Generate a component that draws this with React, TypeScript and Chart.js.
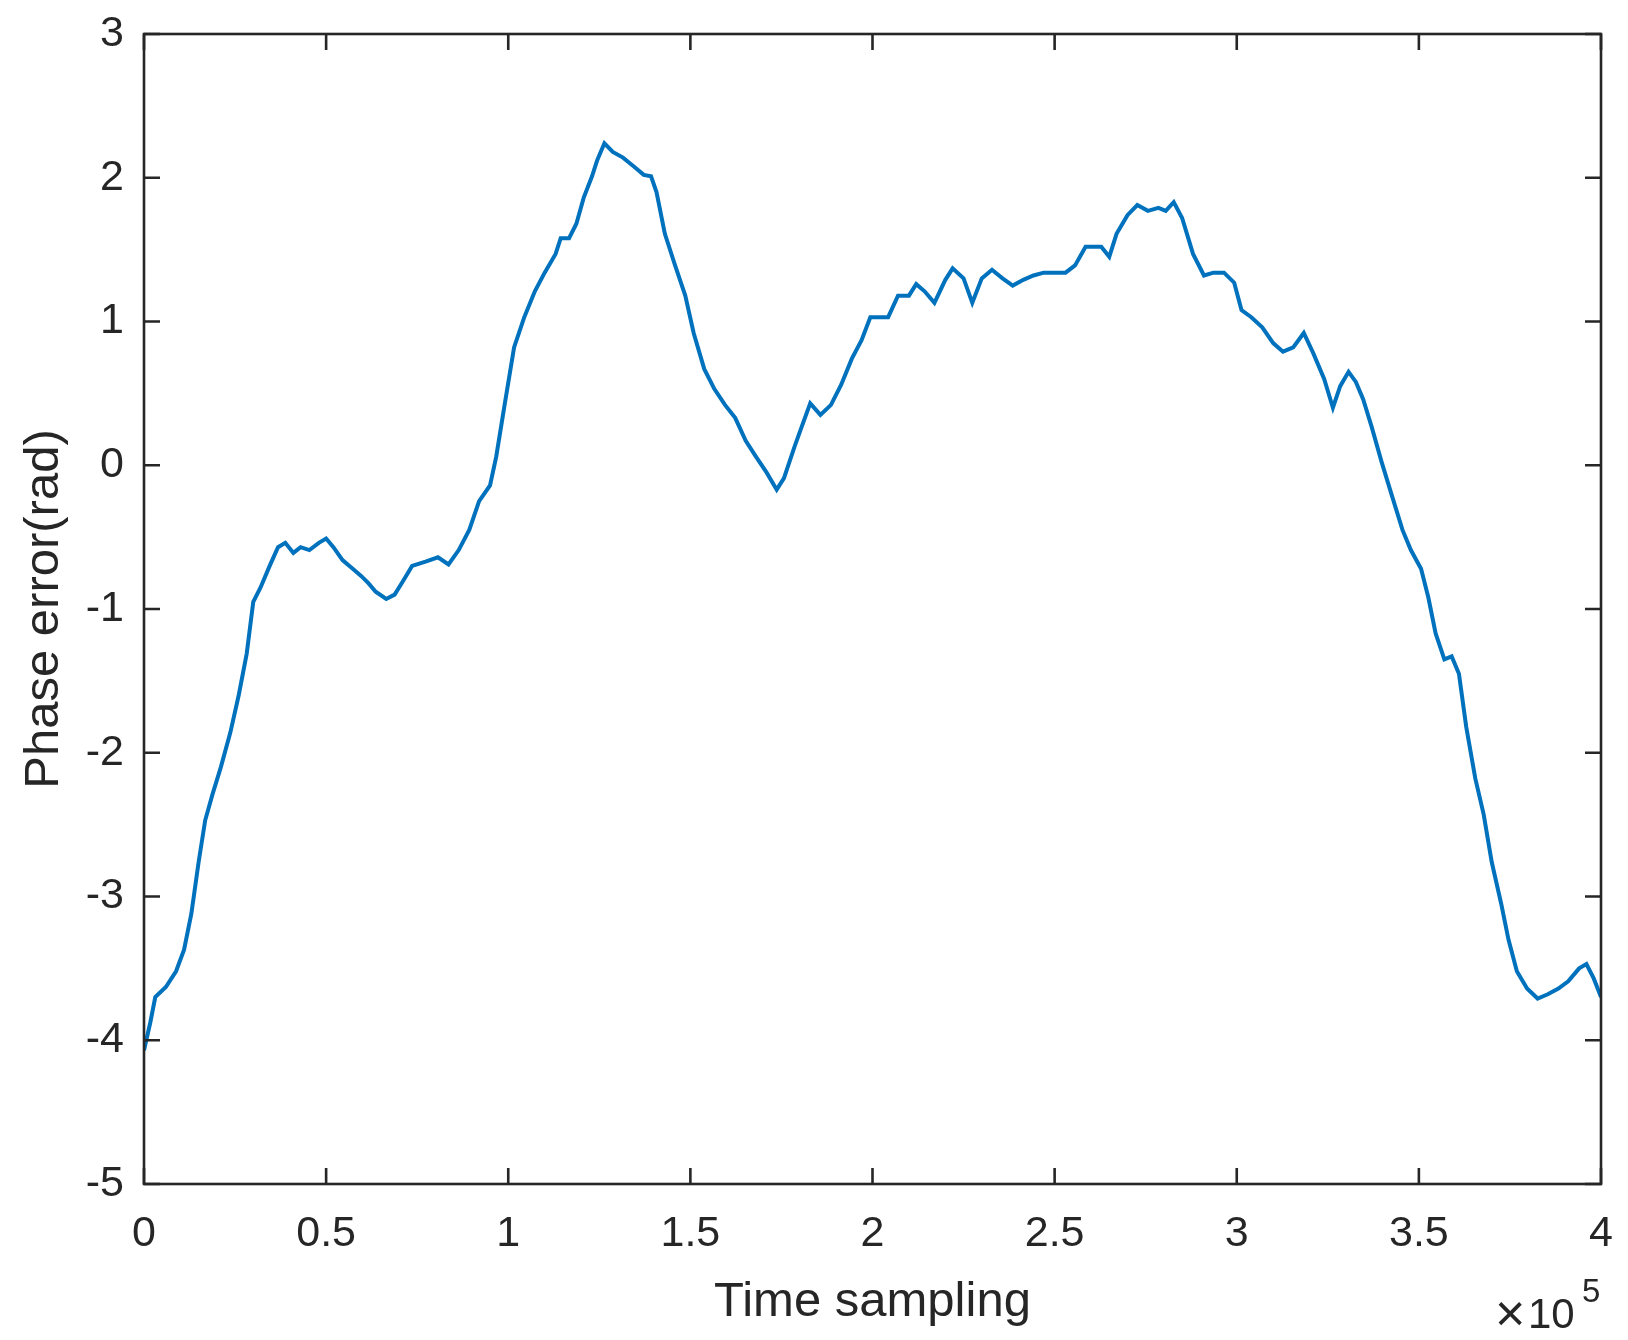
import React, { useEffect, useRef } from "react";
import { Chart, registerables } from "chart.js";

Chart.register(...registerables);

const timeSamples = [
  0, 1700, 3100, 6000, 8800, 11000, 13000, 15000, 16800, 18800, 21100, 23700, 26000, 28200, 30000,
  32000, 34500, 36800, 38800, 41000, 43000, 45400, 48000, 50000, 52000, 54500, 57300, 59600, 61600,
  63600, 66500, 68800, 71000, 73600, 77300, 80700, 83600, 86400, 89300, 92000, 95000, 96700, 99000,
  101600, 104400, 107300, 110000, 113000, 114400, 116700, 118700, 120700, 123000, 124400, 126400,
  128700, 131500, 134400, 137200, 139200, 140700, 143000, 145800, 148600, 150900, 153800, 156600,
  159500, 162300, 165200, 168000, 170900, 173700, 175700, 178600, 180600, 182900, 185700, 188600,
  191400, 194300, 197000, 199400, 201400, 204300, 207000, 210000, 212000, 214300, 217000, 220000,
  222000, 225000, 227400, 230000, 232800, 235700, 238500, 241400, 244200, 247000, 250000, 253000,
  255600, 258500, 262800, 265000, 267000, 270000, 272700, 275600, 278500, 280500, 282700, 285000,
  288000, 291000, 293600, 296500, 299300, 301300, 304000, 307000, 310000, 312700, 315500, 318400,
  321000, 324000, 326400, 328400, 330700, 332700, 334700, 337000, 339800, 342700, 345500, 347800,
  350600, 352600, 354600, 357000, 359000, 361000, 363000, 365500, 367800, 370000, 372600, 374600,
  376900, 379700, 382600, 385400, 388300, 391000, 394000, 396000, 398000, 400000,
];

const phaseError = [
  -4.07, -3.88, -3.7, -3.63, -3.52, -3.37, -3.12, -2.76, -2.47, -2.29, -2.1, -1.86, -1.6, -1.31, -0.95,
  -0.85, -0.7, -0.57, -0.54, -0.61, -0.57, -0.59, -0.54, -0.51, -0.57, -0.66, -0.72, -0.77, -0.82,
  -0.88, -0.93, -0.9, -0.81, -0.7, -0.67, -0.64, -0.69, -0.59, -0.45, -0.25, -0.14, 0.06, 0.42,
  0.82, 1.03, 1.21, 1.34, 1.47, 1.58, 1.58, 1.68, 1.86, 2.01, 2.12, 2.24,
  2.18, 2.14, 2.08, 2.02, 2.01, 1.9, 1.61, 1.39, 1.18, 0.92, 0.67, 0.53,
  0.42, 0.33, 0.17, 0.06, -0.05, -0.17, -0.09, 0.13, 0.27, 0.43, 0.35, 0.42,
  0.56, 0.74, 0.87, 1.03, 1.03, 1.03, 1.18, 1.18, 1.26, 1.21, 1.13, 1.29,
  1.37, 1.3, 1.13, 1.3, 1.36, 1.3, 1.25, 1.29, 1.32, 1.34, 1.34, 1.34,
  1.39, 1.52, 1.52, 1.45, 1.61, 1.74, 1.81, 1.77, 1.79, 1.77, 1.83, 1.72,
  1.47, 1.32, 1.34, 1.34, 1.27, 1.08, 1.03, 0.96, 0.85, 0.79, 0.82, 0.92,
  0.78, 0.6, 0.4, 0.55, 0.65, 0.58, 0.46, 0.27, 0.02, -0.22, -0.45, -0.59,
  -0.72, -0.92, -1.17, -1.35, -1.33, -1.45, -1.82, -2.18, -2.43, -2.76, -3.05, -3.3,
  -3.52, -3.64, -3.71, -3.68, -3.64, -3.59, -3.5, -3.47, -3.57, -3.7,
];

const xTickValues = [0, 50000, 100000, 150000, 200000, 250000, 300000, 350000, 400000];
const xTickLabels = ["0", "0.5", "1", "1.5", "2", "2.5", "3", "3.5", "4"];
const yTickValues = [-5, -4, -3, -2, -1, 0, 1, 2, 3];
const yTickLabels = ["-5", "-4", "-3", "-2", "-1", "0", "1", "2", "3"];

const xTitle = "Time sampling";
const yTitle = "Phase error(rad)";
const exponentTimes = "×";
const exponentBase = "10";
const exponentPower = "5";

const FONT = '"Liberation Sans", Arial, Helvetica, sans-serif';
const AXIS_COLOR = "#262626";
const LINE_COLOR = "#0072BD";

const boxPlugin = {
  id: "matlabBox",
  afterDatasetsDraw(chart: any) {
    const { ctx, chartArea } = chart;
    const xs = chart.scales.x;
    const ys = chart.scales.y;
    const { left, right, top, bottom } = chartArea;
    const tl = 16;
    ctx.save();
    ctx.strokeStyle = AXIS_COLOR;
    ctx.lineWidth = 2.6;
    ctx.lineCap = "butt";
    ctx.beginPath();
    for (const v of xTickValues) {
      const px = xs.getPixelForValue(v);
      ctx.moveTo(px, bottom);
      ctx.lineTo(px, bottom - tl);
      ctx.moveTo(px, top);
      ctx.lineTo(px, top + tl);
    }
    for (const v of yTickValues) {
      const py = ys.getPixelForValue(v);
      ctx.moveTo(left, py);
      ctx.lineTo(left + tl, py);
      ctx.moveTo(right, py);
      ctx.lineTo(right - tl, py);
    }
    ctx.stroke();
    ctx.lineJoin = "miter";
    ctx.strokeRect(left, top, right - left, bottom - top);

    ctx.fillStyle = AXIS_COLOR;
    ctx.textBaseline = "alphabetic";
    ctx.textAlign = "left";
    ctx.font = `52px ${FONT}`;
    ctx.fillText(exponentTimes, 1495, 1331);
    ctx.font = `42px ${FONT}`;
    ctx.fillText(exponentBase, 1528, 1328);
    ctx.font = `33px ${FONT}`;
    ctx.fillText(exponentPower, 1582, 1302);
    ctx.restore();
  },
};

const zeroPadding = (scale: any) => {
  scale.paddingTop = 0;
  scale.paddingBottom = 0;
  scale.paddingLeft = 0;
  scale.paddingRight = 0;
};

export default function App() {
  const canvasRef = useRef<HTMLCanvasElement | null>(null);

  useEffect(() => {
    document.body.style.margin = "0";
    const canvas = canvasRef.current;
    if (!canvas) return;
    const data = timeSamples.map((t, i) => ({ x: t, y: phaseError[i] }));
    const chart = new Chart(canvas, {
      type: "line",
      data: {
        datasets: [
          {
            data,
            borderColor: LINE_COLOR,
            borderWidth: 4,
            pointRadius: 0,
            tension: 0,
            fill: false,
          },
        ],
      },
      options: {
        responsive: false,
        animation: false,
        devicePixelRatio: 1,
        layout: { padding: { top: 34, right: 27, left: 0, bottom: 0 } },
        plugins: {
          legend: { display: false },
          tooltip: { enabled: false },
        },
        scales: {
          x: {
            type: "linear",
            min: 0,
            max: 400000,
            afterFit: (scale: any) => {
              scale.height = 156;
              zeroPadding(scale);
            },
            afterBuildTicks: (scale: any) => {
              scale.ticks = xTickValues.map((v) => ({ value: v }));
            },
            grid: { display: false, drawTicks: false },
            border: { display: false },
            ticks: {
              autoSkip: false,
              maxRotation: 0,
              padding: 24,
              color: AXIS_COLOR,
              font: { family: FONT, size: 43 },
              callback: (v: any) => xTickLabels[xTickValues.indexOf(Number(v))] ?? "",
            },
            title: {
              display: true,
              text: xTitle,
              color: AXIS_COLOR,
              font: { family: FONT, size: 49 },
              padding: { top: 0, bottom: 8 },
            },
          },
          y: {
            type: "linear",
            min: -5,
            max: 3,
            afterFit: (scale: any) => {
              scale.width = 144;
              zeroPadding(scale);
            },
            afterBuildTicks: (scale: any) => {
              scale.ticks = yTickValues.map((v) => ({ value: v }));
            },
            grid: { display: false, drawTicks: false },
            border: { display: false },
            ticks: {
              autoSkip: false,
              padding: 20,
              color: AXIS_COLOR,
              font: { family: FONT, size: 43 },
              callback: (v: any) => yTickLabels[yTickValues.indexOf(Number(v))] ?? "",
            },
            title: {
              display: true,
              text: yTitle,
              color: AXIS_COLOR,
              font: { family: FONT, size: 49 },
              padding: { top: 15, bottom: 0 },
            },
          },
        },
      },
      plugins: [boxPlugin],
    });
    return () => chart.destroy();
  }, []);

  return (
    <div style={{ width: 1628, height: 1340, background: "#fff" }}>
      <canvas ref={canvasRef} width={1628} height={1340} style={{ display: "block" }} />
    </div>
  );
}
